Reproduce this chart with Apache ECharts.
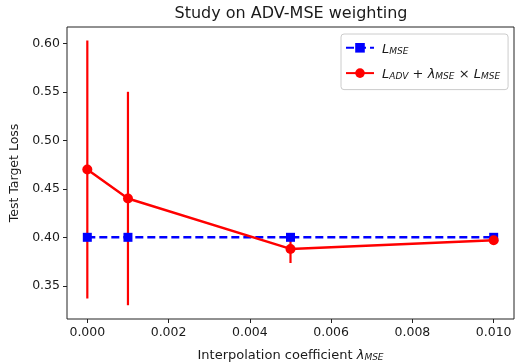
<!DOCTYPE html>
<html><head><meta charset="utf-8">
<script src="https://cdn.jsdelivr.net/npm/echarts@6/dist/echarts.min.js"></script>
<style>html,body{margin:0;padding:0;background:#fff}#c{width:515px;height:364px}</style>
</head><body><div id="c"></div>
<script>
const lambdas = [0, 0.001, 0.005, 0.01];
const mseLoss = [0.400, 0.400, 0.400, 0.400];
const advLoss = [0.470, 0.440, 0.388, 0.397];
const advErr = [0.133, 0.110, 0.0145, 0.003];
const xTicks = [0, 0.002, 0.004, 0.006, 0.008, 0.010];
const yTicks = [0.35, 0.40, 0.45, 0.50, 0.55, 0.60];

const FONT = 'DejaVu Sans';
const chart = echarts.init(document.getElementById('c'), null, {renderer: 'canvas'});
const rich = {
  i: {fontFamily: FONT, fontStyle: 'italic', fontSize: 13, color: '#1a1a1a', lineHeight: 17, verticalAlign: 'bottom'},
  n: {fontFamily: FONT, fontSize: 13, color: '#1a1a1a', lineHeight: 17, verticalAlign: 'bottom'},
  s: {fontFamily: FONT, fontStyle: 'italic', fontSize: 9, color: '#1a1a1a', lineHeight: 11, verticalAlign: 'bottom'}
};
const names = {
  mse: '{i|L}{s|MSE}',
  adv: '{i|L}{s|ADV}{n| + }{i|λ}{s|MSE}{n| × }{i|L}{s|MSE}'
};
chart.setOption({
  animation: false,
  backgroundColor: '#fff',
  title: {
    text: 'Study on ADV-MSE weighting',
    left: 286, top: 1, textAlign: 'center',
    textStyle: {fontFamily: FONT, fontSize: 16, fontWeight: 'normal', color: '#1a1a1a'}
  },
  grid: {left: 67, top: 27, right: 1, bottom: 45, show: true, borderColor: '#222', borderWidth: 1,
         backgroundColor: 'transparent', containLabel: false, outerBoundsMode: 'none'},
  legend: {
    orient: 'vertical', left: 341, top: 34,
    padding: [9, 8, 8, 4], itemGap: 12, itemWidth: 28, itemHeight: 12,
    backgroundColor: '#fff', borderColor: '#ccc', borderWidth: 1, borderRadius: 3,
    data: ['mse', 'adv'],
    formatter: n => names[n],
    textStyle: {fontFamily: FONT, fontSize: 13, color: '#1a1a1a', rich: rich, padding: [0, 0, 0, 3]}
  },
  xAxis: {
    type: 'value', min: -0.0005, max: 0.0105,
    name: '{n|Interpolation coefficient }{i|λ}{s|MSE}', nameLocation: 'middle', nameGap: 27,
    nameTextStyle: {rich: {
      n: {fontFamily: FONT, fontSize: 13, color: '#1a1a1a', lineHeight: 16, verticalAlign: 'bottom'},
      i: {fontFamily: FONT, fontStyle: 'italic', fontSize: 13, color: '#1a1a1a', lineHeight: 16, verticalAlign: 'bottom'},
      s: {fontFamily: FONT, fontStyle: 'italic', fontSize: 9, color: '#1a1a1a', lineHeight: 10, verticalAlign: 'bottom'}
    }},
    splitLine: {show: false},
    axisLine: {show: false, onZero: false},
    axisTick: {show: true, length: 4, lineStyle: {color: '#222'}, customValues: xTicks},
    axisLabel: {customValues: xTicks, formatter: v => v.toFixed(3), fontFamily: FONT, fontSize: 12.5, color: '#1a1a1a', margin: 7}
  },
  yAxis: {
    type: 'value', min: 0.3158, max: 0.6168,
    name: 'Test Target Loss', nameLocation: 'middle', nameGap: 46,
    nameTextStyle: {fontFamily: FONT, fontSize: 12.5, color: '#1a1a1a'},
    splitLine: {show: false},
    axisLine: {show: false, onZero: false},
    axisTick: {show: true, length: 4, lineStyle: {color: '#222'}, customValues: yTicks},
    axisLabel: {customValues: yTicks, formatter: v => v.toFixed(2), fontFamily: FONT, fontSize: 12.5, color: '#1a1a1a', margin: 7}
  },
  series: [
    {
      name: 'err', type: 'custom', z: 1,
      data: lambdas.map((x, i) => [x, advLoss[i] - advErr[i], advLoss[i] + advErr[i]]),
      encode: {x: 0, y: [1, 2]},
      renderItem: (params, api) => {
        const a = api.coord([api.value(0), api.value(1)]);
        const b = api.coord([api.value(0), api.value(2)]);
        return {type: 'line', shape: {x1: a[0], y1: a[1], x2: b[0], y2: b[1]}, style: {stroke: '#ff0000', lineWidth: 2.2}};
      }
    },
    {
      name: 'mse', type: 'line', z: 2,
      data: lambdas.map((x, i) => [x, mseLoss[i]]),
      symbol: 'rect', symbolSize: 9, showAllSymbol: true,
      itemStyle: {color: '#0000ff'},
      lineStyle: {color: '#0000ff', width: 2.4, type: [8, 4]}
    },
    {
      name: 'adv', type: 'line', z: 3,
      data: lambdas.map((x, i) => [x, advLoss[i]]),
      symbol: 'circle', symbolSize: 10, showAllSymbol: true,
      itemStyle: {color: '#ff0000'},
      lineStyle: {color: '#ff0000', width: 2.4}
    }
  ]
});
</script></body></html>
